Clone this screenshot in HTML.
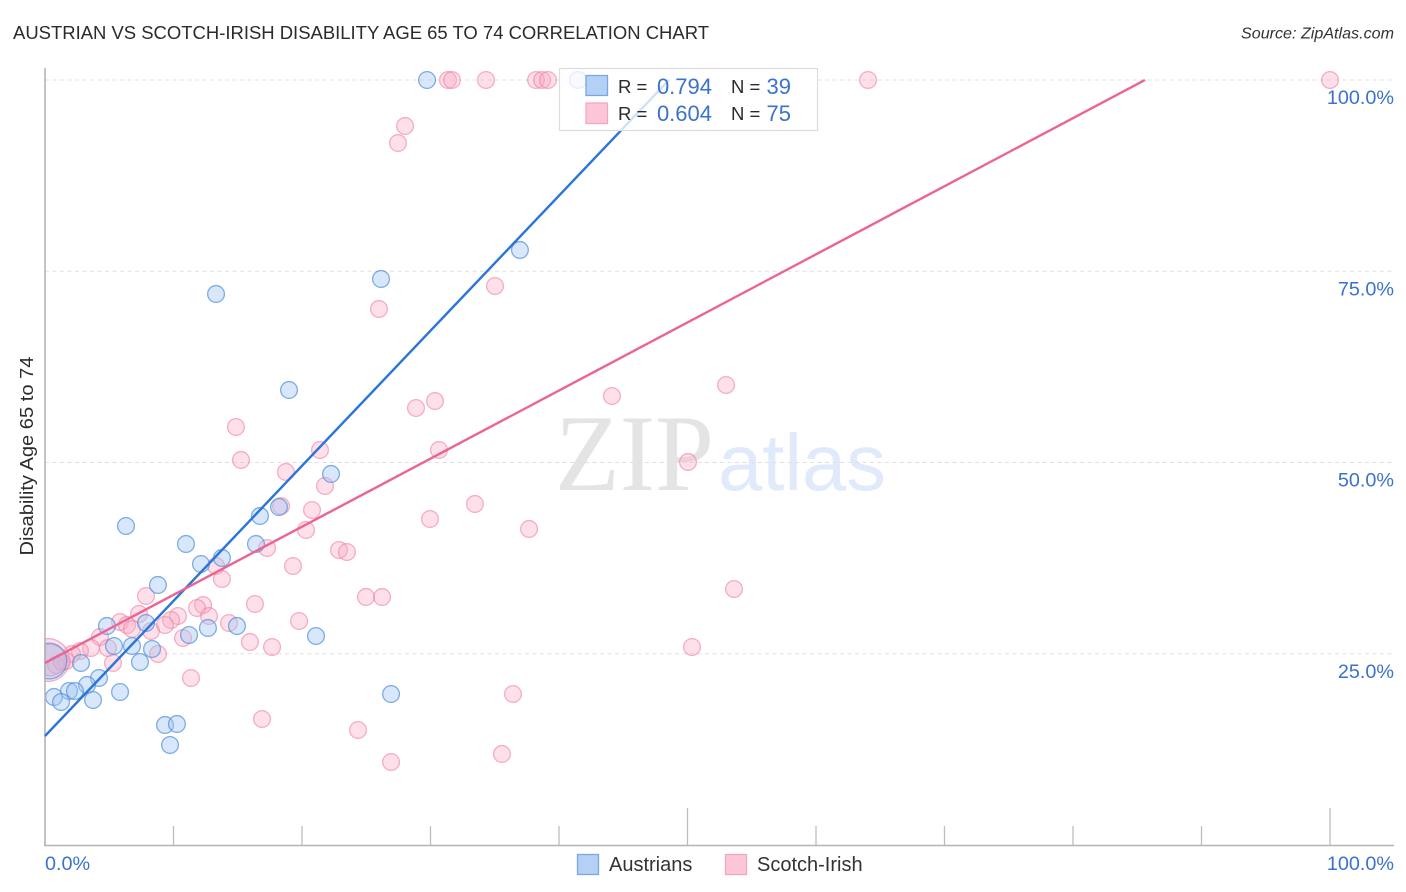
<!DOCTYPE html>
<html lang="en">
<head>
<meta charset="utf-8">
<title>Austrian vs Scotch-Irish Disability Age 65 to 74 Correlation Chart</title>
<style>
html,body{margin:0;padding:0;background:#fff;}
svg{display:block;font-family:"Liberation Sans",sans-serif;}
</style>
</head>
<body>
<svg id="chart" xmlns="http://www.w3.org/2000/svg" width="1406" height="892" viewBox="0 0 1406 892">
  <text x="13" y="39" font-size="18.5" fill="#2b2b2b" textLength="696" lengthAdjust="spacingAndGlyphs">AUSTRIAN VS SCOTCH-IRISH DISABILITY AGE 65 TO 74 CORRELATION CHART</text>
  <text x="1241" y="38.500" font-size="16" font-style="italic" fill="#333" textLength="153" lengthAdjust="spacingAndGlyphs">Source: ZipAtlas.com</text>
  <g>
    <text x="555" y="490" font-family="'Liberation Serif',serif" font-size="109" fill="#e4e4e4" textLength="159" lengthAdjust="spacingAndGlyphs">ZIP</text>
    <text x="718" y="490" font-size="80" fill="#e0eafa" textLength="168" lengthAdjust="spacingAndGlyphs">atlas</text>
  </g>
  <g id="grid"></g>
  <g id="axes"></g>
  <g id="pinkDots"></g>
  <g id="blueDots"></g>
  <line id="yAxis" x1="45" x2="45" y1="68" y2="846" stroke="#b4b4b4" stroke-width="1.600"/>
  <g id="trends"></g>
  <g>
    <rect x="559.500" y="68.500" width="258" height="62" fill="#fff" fill-opacity="0.78" stroke="#dcdcdc" stroke-width="1.200"/>
    <rect x="586" y="75.500" width="21.500" height="20" fill="#b5d0f5" stroke="#7ba6e3" stroke-width="1.300"/>
    <rect x="586" y="103" width="21.500" height="20.500" fill="#fcc6d8" stroke="#f3a7bf" stroke-width="1.300"/>
    <text x="618" y="93" font-size="18.500" fill="#2b2b2b">R =</text>
    <text x="712" y="94" font-size="22" fill="#3b72cc" text-anchor="end">0.794</text>
    <text x="731" y="93" font-size="18.500" fill="#2b2b2b">N =</text>
    <text x="791" y="94" font-size="22" fill="#3b72cc" text-anchor="end">39</text>
    <text x="618" y="120" font-size="18.500" fill="#2b2b2b">R =</text>
    <text x="712" y="121" font-size="22" fill="#3b72cc" text-anchor="end">0.604</text>
    <text x="731" y="120" font-size="18.500" fill="#2b2b2b">N =</text>
    <text x="791" y="121" font-size="22" fill="#3b72cc" text-anchor="end">75</text>
  </g>
  <g>
    <rect x="577.500" y="854.500" width="21" height="20" fill="#b5d0f5" stroke="#7ba6e3" stroke-width="1.300"/>
    <text x="609" y="871" font-size="20" fill="#333">Austrians</text>
    <rect x="725.500" y="854.500" width="21" height="20" fill="#fcc6d8" stroke="#f3a7bf" stroke-width="1.300"/>
    <text x="757" y="871" font-size="20" fill="#333">Scotch-Irish</text>
  </g>
  <text transform="translate(33,456) rotate(-90)" font-size="18.500" fill="#2b2b2b" text-anchor="middle" textLength="199" lengthAdjust="spacingAndGlyphs">Disability Age 65 to 74</text>
</svg>
<script>
const xTickValues = [10, 20, 30, 40, 50, 60, 70, 80, 90, 100];
const xLongTicks = [50, 100];
const yTickValues = [25, 50, 75, 100];
const yTickLabels = ["25.0%", "50.0%", "75.0%", "100.0%"];
const xEdgeValues = [0, 100];
const xEdgeLabels = ["0.0%", "100.0%"];

const austrianX = [29.73, 41.48, 36.96, 26.15, 13.31, 18.99, 22.26, 18.21, 16.73, 6.30, 16.42, 10.97, 13.77, 12.14, 8.79, 7.86, 4.82, 14.94, 12.68, 11.21, 21.09, 5.37, 6.77, 8.33, 2.80, 7.39, 4.20, 3.27, 5.84, 1.87, 2.33, 0.70, 1.25, 3.74, 26.93, 9.34, 10.27, 9.73];
const austrianY = [100, 100, 77.78, 73.99, 72.03, 59.48, 48.50, 44.18, 43.01, 41.70, 39.35, 39.35, 37.52, 36.73, 33.99, 29.02, 28.63, 28.63, 28.37, 27.45, 27.32, 26.01, 26.01, 25.62, 23.79, 23.92, 21.83, 20.92, 20.00, 20.13, 20.13, 19.35, 18.69, 18.95, 19.74, 15.69, 15.82, 13.07];
const austrianLargeX = [0.31];
const austrianLargeY = [24.05];
const austrianLargeWeight = [4.5];

const scotchX = [31.36, 31.67, 34.32, 38.21, 38.68, 39.14, 64.05, 100, 28.02, 27.47, 35.02, 25.99, 53.00, 44.12, 28.87, 30.35, 14.86, 15.25, 30.66, 21.40, 50.04, 18.75, 21.79, 18.37, 20.78, 33.46, 29.96, 20.31, 37.67, 17.28, 22.88, 23.50, 19.30, 13.31, 13.77, 53.62, 7.86, 24.98, 26.23, 16.34, 12.30, 11.83, 7.32, 12.76, 10.35, 9.81, 19.77, 14.32, 5.84, 6.38, 9.34, 6.77, 8.25, 10.74, 4.28, 15.95, 17.67, 50.35, 4.90, 8.79, 3.58, 2.72, 2.10, 5.29, 1.63, 11.36, 36.42, 16.89, 24.36, 35.56, 26.93, 0.86, 1.32];
const scotchY = [100, 100, 100, 100, 100, 100, 100, 100, 93.99, 91.76, 73.07, 70.07, 60.13, 58.69, 57.12, 58.04, 54.64, 50.33, 51.63, 51.63, 50.07, 48.76, 46.93, 44.31, 43.79, 44.58, 42.61, 41.18, 41.31, 38.82, 38.56, 38.30, 36.47, 36.47, 34.77, 33.46, 32.55, 32.42, 32.42, 31.50, 31.37, 30.98, 30.20, 29.93, 29.93, 29.41, 29.28, 29.02, 29.15, 28.76, 28.76, 28.24, 27.97, 27.06, 27.19, 26.54, 25.88, 25.88, 25.75, 24.97, 25.75, 25.36, 24.97, 23.79, 24.05, 21.83, 19.74, 16.47, 15.03, 11.90, 10.85, 23.53, 23.92];
const scotchLargeX = [0.23, 0.39];
const scotchLargeY = [24.18, 24.18];
const scotchLargeWeight = [6.5, 3.5];

const austrianTrendX = [0, 48.56];
const austrianTrendY = [14.25, 100];
const scotchTrendX = [0, 85.6];
const scotchTrendY = [23.8, 100];

const SVG_NS = "http://www.w3.org/2000/svg";
function xScale(v) { return 45 + v * 12.85; }
function yScale(v) { return 845 - v * 7.65; }
function make(tag, attrs, parent) {
  const el = document.createElementNS(SVG_NS, tag);
  for (const k in attrs) el.setAttribute(k, attrs[k]);
  parent.appendChild(el);
  return el;
}

const gridGroup = document.getElementById("grid");
const axesGroup = document.getElementById("axes");
const pinkGroup = document.getElementById("pinkDots");
const blueGroup = document.getElementById("blueDots");
const trendGroup = document.getElementById("trends");

yTickValues.forEach(function (v, i) {
  const line = make("line", {x1: 45, x2: 1394, y1: yScale(v), y2: yScale(v), stroke: "#e0e0e0", "stroke-width": 1, "stroke-dasharray": "4 3.5"}, gridGroup);
  
  
  const label = make("text", {x: 1394, y: yScale(v) + 24, "font-size": 19.8, fill: "#3b72cc", "text-anchor": "end"}, axesGroup);
  label.textContent = yTickLabels[i];
  
  
});

const xAxisLine = make("line", {x1: 44, x2: 1394, y1: 845.5, y2: 845.5, stroke: "#b4b4b4", "stroke-width": 1.6}, axesGroup);



xTickValues.forEach(function (v) {
  const top = xLongTicks.indexOf(v) >= 0 ? 808 : 826;
  const tick = make("line", {x1: xScale(v), x2: xScale(v), y1: top, y2: 845, stroke: "#bdbdbd", "stroke-width": 1.3}, axesGroup);
  
  
});

xEdgeValues.forEach(function (v, i) {
  const label = make("text", {x: i === 0 ? xScale(v) : 1394, y: 870, "font-size": 19.8, fill: "#3b72cc", "text-anchor": i === 0 ? "start" : "end"}, axesGroup);
  label.textContent = xEdgeLabels[i];
  
  
});

const BASE_R = 8.4;
const PINK_STYLE = {fill: "#f9a8c2", "fill-opacity": 0.36, stroke: "#ee7fa3", "stroke-opacity": 0.6, "stroke-width": 1.3};
const BLUE_STYLE = {fill: "#a3c6f2", "fill-opacity": 0.42, stroke: "#4f8ddc", "stroke-opacity": 0.7, "stroke-width": 1.3};

function withStyle(base, style) {
  const out = {};
  for (const k in base) out[k] = base[k];
  for (const k in style) out[k] = style[k];
  return out;
}
/* A bubble that overlaps the y axis is cut off along the axis (x = 0). */
function clippedBubblePath(x, y, weight) {
  const cx = xScale(x);
  const cy = yScale(y);
  const r = BASE_R * Math.sqrt(weight);
  const edge = xScale(0);
  const d = edge - cx;
  const h = Math.sqrt(Math.max(r * r - d * d, 0));
  const large = cx > edge ? 1 : 0;
  return "M " + edge + " " + (cy - h) + " A " + r + " " + r + " 0 " + large + " 1 " + edge + " " + (cy + h) + " Z";
}

scotchLargeX.forEach(function (x, i) {
  const dot = make("path", withStyle({d: clippedBubblePath(x, scotchLargeY[i], scotchLargeWeight[i])}, PINK_STYLE), pinkGroup);
  
  
});
scotchX.forEach(function (x, i) {
  const dot = make("circle", withStyle({cx: xScale(x), cy: yScale(scotchY[i]), r: BASE_R}, PINK_STYLE), pinkGroup);
  
  
});
austrianLargeX.forEach(function (x, i) {
  const dot = make("path", withStyle({d: clippedBubblePath(x, austrianLargeY[i], austrianLargeWeight[i])}, BLUE_STYLE), blueGroup);
  
  
});
austrianX.forEach(function (x, i) {
  const dot = make("circle", withStyle({cx: xScale(x), cy: yScale(austrianY[i]), r: BASE_R}, BLUE_STYLE), blueGroup);
  
  
});

const blueTrend = make("line", {x1: xScale(austrianTrendX[0]), y1: yScale(austrianTrendY[0]), x2: xScale(austrianTrendX[1]), y2: yScale(austrianTrendY[1]), stroke: "#2a75d8", "stroke-width": 2.4}, trendGroup);


const pinkTrend = make("line", {x1: xScale(scotchTrendX[0]), y1: yScale(scotchTrendY[0]), x2: xScale(scotchTrendX[1]), y2: yScale(scotchTrendY[1]), stroke: "#ea6594", "stroke-width": 2.4}, trendGroup);


</script>
</body>
</html>
